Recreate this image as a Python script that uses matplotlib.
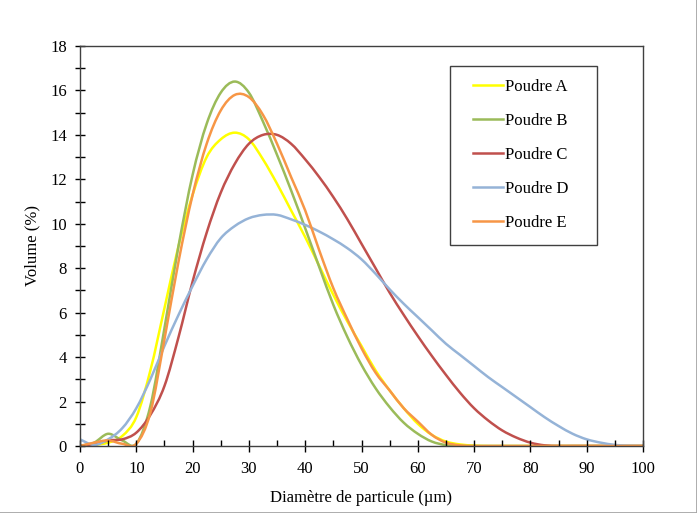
import numpy as np
import matplotlib
matplotlib.use("Agg")
import matplotlib.pyplot as plt
from matplotlib.ticker import MultipleLocator
from matplotlib.patches import Rectangle, PathPatch
from matplotlib.path import Path
from matplotlib.lines import Line2D

plt.rcParams['font.family'] = ['Liberation Serif', 'DejaVu Serif']
plt.rcParams['font.size'] = 12

# particle diameter (um), common grid for all powders
diam = [0, 2.5, 5, 7.5, 10, 12.5, 15, 17.5, 20, 22.5, 25, 27.5, 30, 32.5, 35, 37.5,
        40, 42.5, 45, 47.5, 50, 52.5, 55, 57.5, 60, 62.5, 65, 67.5, 70, 72.5, 75,
        77.5, 80, 82.5, 85, 87.5, 90, 92.5, 95, 97.5, 100]

poudre_a = [0, 0.05, 0.15, 0.45, 1.3, 3.4, 6.2, 9.0, 11.3, 13.0, 13.8, 14.1, 13.8, 12.9,
            11.8, 10.6, 9.4, 8.1, 6.8, 5.6, 4.5, 3.4, 2.5, 1.7, 1.0, 0.5, 0.2, 0.07,
            0.02, 0, 0, 0, 0, 0, 0, 0, 0, 0, 0, 0, 0]
poudre_b = [0, 0.15, 0.55, 0.25, 0.1, 1.8, 5.3, 9.0, 12.2, 14.5, 15.9, 16.4, 15.9, 14.6,
            13.1, 11.5, 9.8, 8.05, 6.35, 4.9, 3.65, 2.6, 1.75, 1.05, 0.55, 0.2, 0.04, 0,
            0, 0, 0, 0, 0, 0, 0, 0, 0, 0, 0, 0, 0]
poudre_c = [0, 0.05, 0.25, 0.3, 0.6, 1.4, 2.7, 4.9, 7.4, 9.6, 11.4, 12.7, 13.6, 14.0,
            14.0, 13.6, 12.9, 12.1, 11.2, 10.2, 9.1, 8.0, 6.9, 5.9, 4.95, 4.05, 3.2, 2.4,
            1.7, 1.15, 0.7, 0.38, 0.15, 0.03, 0, 0, 0, 0, 0, 0, 0]
poudre_d = [0.3, 0.05, 0.3, 0.8, 1.7, 3.0, 4.5, 5.9, 7.2, 8.4, 9.35, 9.9, 10.25, 10.4,
            10.4, 10.2, 9.95, 9.65, 9.3, 8.9, 8.4, 7.75, 7.05, 6.4, 5.8, 5.2, 4.6, 4.1,
            3.6, 3.1, 2.65, 2.2, 1.75, 1.3, 0.9, 0.55, 0.3, 0.15, 0.05, 0.01, 0]
poudre_e = [0, 0.15, 0.25, 0.1, 0.1, 1.5, 4.8, 8.3, 11.3, 13.6, 15.1, 15.8, 15.7, 14.9,
            13.6, 12.1, 10.6, 8.8, 7.1, 5.7, 4.4, 3.3, 2.5, 1.7, 1.1, 0.5, 0.15, 0.03,
            0, 0, 0, 0, 0, 0, 0, 0, 0, 0, 0, 0, 0]

series = [
    ("Poudre A", poudre_a, "#FFFF00"),
    ("Poudre B", poudre_b, "#9BBB59"),
    ("Poudre C", poudre_c, "#C0504D"),
    ("Poudre D", poudre_d, "#95B3D7"),
    ("Poudre E", poudre_e, "#F79646"),
]


def smooth_path(x, y):
    # Excel-like "smoothed line": cubic bezier through every point
    pts = np.column_stack([x, y]).astype(float)
    n = len(pts)
    verts = [pts[0]]
    codes = [Path.MOVETO]
    for i in range(n - 1):
        p0 = pts[max(i - 1, 0)]
        p1 = pts[i]
        p2 = pts[i + 1]
        p3 = pts[min(i + 2, n - 1)]
        verts += [p1 + (p2 - p0) / 6, p2 - (p3 - p1) / 6, p2]
        codes += [Path.CURVE4] * 3
    return Path(verts, codes)


fig = plt.figure(figsize=(6.97, 5.13), dpi=100)
ax = fig.add_axes([80 / 697, 67 / 513, 563 / 697, 400 / 513])

handles = []
for name, vals, col in series:
    ax.add_patch(PathPatch(smooth_path(diam, vals), fill=False, edgecolor=col,
                           lw=1.8, capstyle='round', joinstyle='round'))
    handles.append(Line2D([], [], color=col, lw=1.8, label=name))

ax.set_xlim(0, 100)
ax.set_ylim(0, 18)
ax.xaxis.set_major_locator(MultipleLocator(10))
ax.xaxis.set_minor_locator(MultipleLocator(5))
ax.yaxis.set_major_locator(MultipleLocator(2))
ax.yaxis.set_minor_locator(MultipleLocator(1))
ax.tick_params(axis='x', which='major', direction='inout', length=9, width=1, pad=6)
ax.tick_params(axis='x', which='minor', direction='in', length=4.5, width=1)
ax.tick_params(axis='y', which='both', direction='inout', length=7, width=1, pad=6)
for sp in ax.spines.values():
    sp.set_color('#404040')
    sp.set_linewidth(1)

ax.set_xlabel("Diamètre de particule (µm)", labelpad=10)
ax.set_ylabel("Volume (%)", labelpad=7)

# legend without its own frame, frame drawn separately (wider side padding)
ax.legend(handles=handles, loc='upper left', bbox_to_anchor=(0.698, 0.917),
          frameon=False, handlelength=1.8, handletextpad=0.1,
          labelspacing=1.08, borderpad=0, borderaxespad=0)
ax.add_patch(Rectangle((0.657, 0.5025), 0.261, 0.4475, transform=ax.transAxes,
                       fill=False, edgecolor='#404040', lw=1, zorder=5))

fig.add_artist(Line2D([1, 1], [0, 1], transform=fig.transFigure,
                      color='#a6a6a6', lw=2))
fig.add_artist(Line2D([0, 1], [0, 0], transform=fig.transFigure,
                      color='#a6a6a6', lw=2))

fig.savefig("out.png", dpi=100)
